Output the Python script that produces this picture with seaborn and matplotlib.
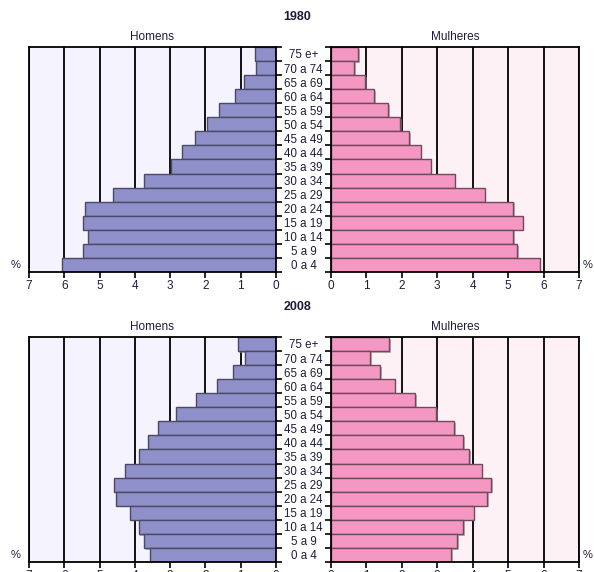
import numpy as np
import pandas as pd
import matplotlib
matplotlib.use("Agg")
import matplotlib.pyplot as plt
import matplotlib.patheffects as pe
import seaborn as sns

ages = ["75 e+", "70 a 74", "65 a 69", "60 a 64", "55 a 59", "50 a 54", "45 a 49",
        "40 a 44", "35 a 39", "30 a 34", "25 a 29", "20 a 24", "15 a 19", "10 a 14",
        "5 a 9", "0 a 4"]

homens_1980 = [0.59, 0.58, 0.90, 1.17, 1.61, 1.96, 2.29, 2.66, 2.98, 3.74, 4.61,
               5.41, 5.47, 5.34, 5.47, 6.07]
mulheres_1980 = [0.77, 0.66, 0.97, 1.23, 1.63, 1.95, 2.21, 2.54, 2.82, 3.50, 4.34,
                 5.15, 5.41, 5.15, 5.26, 5.89]
homens_2008 = [1.09, 0.88, 1.21, 1.66, 2.26, 2.84, 3.34, 3.63, 3.87, 4.28, 4.59,
               4.52, 4.15, 3.89, 3.74, 3.58]
mulheres_2008 = [1.64, 1.12, 1.40, 1.80, 2.38, 2.98, 3.49, 3.73, 3.90, 4.26, 4.53,
                 4.42, 4.03, 3.73, 3.56, 3.39]

years = ["1980", "2008"]
x_ticks = [0, 1, 2, 3, 4, 5, 6, 7]

sns.set_style("white")
plt.rcParams["font.family"] = ["Liberation Sans", "DejaVu Sans"]
text_color = "#1c1c3a"

men_color = "#8f8fc9"
women_color = "#f497c2"
men_bg = "#f5f3fd"
women_bg = "#fdf1f6"

fig = plt.figure(figsize=(5.94, 5.72), dpi=100)

rows = [
    (years[0], homens_1980, mulheres_1980, 0.5245),
    (years[1], homens_2008, mulheres_2008, 0.0175),
]

shadow = [pe.SimplePatchShadow(offset=(1.2, -1.2), shadow_rgbFace="#888888", alpha=0.6),
          pe.Normal()]

def style_axis(ax, bg):
    ax.set_facecolor(bg)
    ax.set_xlim(0, 7)
    ax.set_xticks(x_ticks)
    ax.set_xticklabels([str(t) for t in x_ticks], fontsize=8.5, color=text_color)
    ax.grid(axis="x", color="black", linewidth=1.3)
    ax.grid(axis="y", visible=False)
    ax.set_axisbelow(True)
    for s in ax.spines.values():
        s.set_visible(True)
        s.set_color("black")
        s.set_linewidth(1.3)
    ax.tick_params(axis="x", direction="out", length=4, width=1.2, pad=2,
                   bottom=True, colors="black", labelcolor=text_color)
    ax.set_ylim(len(ages) - 0.5, -0.5)
    ax.set_xlabel("")
    ax.set_ylabel("")
    for p in ax.patches:
        p.set_path_effects(shadow)

for year, men, women, bottom in rows:
    ax_m = fig.add_axes([0.0488, bottom, 0.4158, 0.3934])
    ax_w = fig.add_axes([0.5567, bottom, 0.418, 0.3934])

    df_m = pd.DataFrame({"idade": ages, "pct": men})
    df_w = pd.DataFrame({"idade": ages, "pct": women})

    sns.barplot(data=df_m, x="pct", y="idade", order=ages, orient="h", color=men_color,
                saturation=1, width=1.0, edgecolor="#4a4a66", linewidth=1.0, ax=ax_m)
    sns.barplot(data=df_w, x="pct", y="idade", order=ages, orient="h", color=women_color,
                saturation=1, width=1.0, edgecolor="#6e4a5a", linewidth=1.0, ax=ax_w)

    style_axis(ax_m, men_bg)
    style_axis(ax_w, women_bg)
    ax_m.invert_xaxis()

    boundaries = np.arange(len(ages) + 1) - 0.5
    # age labels centred in the gap between the two panels
    ax_m.yaxis.tick_right()
    ax_m.set_yticks(range(len(ages)))
    ax_m.set_yticklabels(ages, fontsize=8.3, color=text_color, ha="center")
    ax_m.tick_params(axis="y", which="major", length=0, pad=19.8)
    ax_m.set_yticks(boundaries, minor=True)
    ax_m.tick_params(axis="y", which="minor", right=True, left=False, length=4,
                     width=1.2, color="black")

    ax_w.set_yticks(range(len(ages)))
    ax_w.set_yticklabels([])
    ax_w.tick_params(axis="y", which="major", length=0)
    ax_w.set_yticks(boundaries, minor=True)
    ax_w.tick_params(axis="y", which="minor", left=True, length=4, width=1.2,
                     color="black")

    ax_m.set_title("Homens", fontsize=8.5, color=text_color, pad=5)
    ax_w.set_title("Mulheres", fontsize=8.5, color=text_color, pad=5)

    top_px = (1 - (bottom + 0.3934)) * 572
    fig.text(0.5, 1 - (top_px - 30) / 572, year, ha="center", va="center",
             fontsize=9, fontweight="bold", color=text_color)
    fig.text(0.027, bottom + 0.012, "%", ha="center", va="center", fontsize=8,
             color=text_color)
    fig.text(0.99, bottom + 0.012, "%", ha="center", va="center", fontsize=8,
             color=text_color)

fig.savefig("out.png", dpi=100)
